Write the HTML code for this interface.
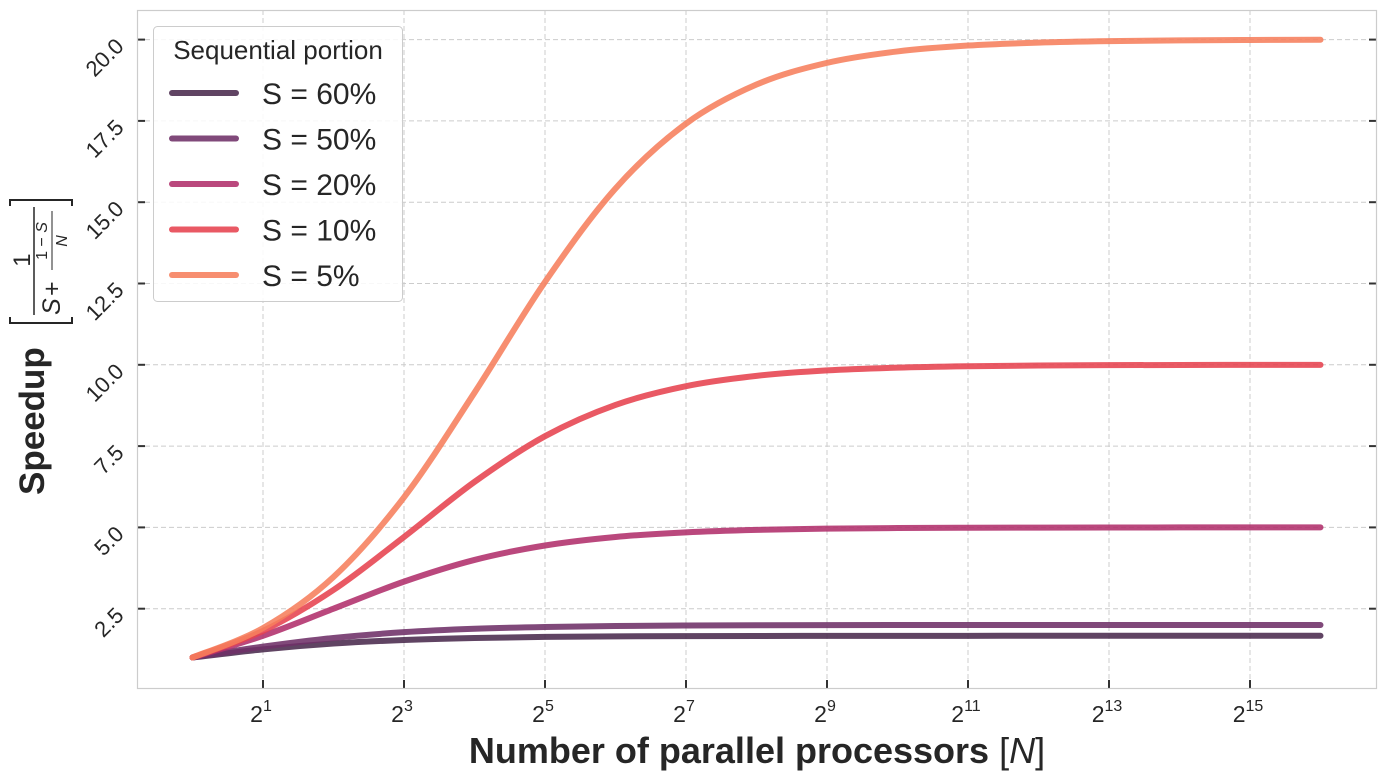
<!DOCTYPE html>
<html><head><meta charset="utf-8"><style>
body{margin:0;background:#fff}
svg{display:block;font-family:"Liberation Sans","DejaVu Sans",sans-serif}
</style></head><body>
<svg id="chart" width="1387" height="780" viewBox="0 0 1387 780">
<rect x="0" y="0" width="1387" height="780" fill="#fff"/>
<g id="grid"></g>
<g id="ticks"></g>
<g id="series"></g>
<rect x="137.5" y="10.5" width="1239" height="678" fill="none" stroke="#ccc" stroke-width="1.2"/>
<text x="757" y="763" text-anchor="middle" font-size="36" font-weight="bold" fill="#262626">Number of parallel processors <tspan font-weight="normal">[</tspan><tspan font-weight="normal" font-style="italic">N</tspan><tspan font-weight="normal">]</tspan></text>
<g transform="translate(44,495) rotate(-90)">
<text x="0" y="0" font-size="35" font-weight="bold" fill="#262626">Speedup</text>
<path d="M178,-34 L172,-34 L172,28 L178,28" fill="none" stroke="#262626" stroke-width="2"/>
<path d="M289,-34 L295,-34 L295,28 L289,28" fill="none" stroke="#262626" stroke-width="2"/>
<text x="235" y="-14" text-anchor="middle" font-size="24" fill="#262626">1</text>
<line x1="180" y1="-10" x2="288" y2="-10" stroke="#262626" stroke-width="1.5"/>
<text x="180" y="16" font-size="25" font-style="italic" fill="#262626">S</text>
<text x="199" y="16" font-size="25" fill="#262626">+</text>
<text x="254" y="3" text-anchor="middle" font-size="16" fill="#262626">1 − <tspan font-style="italic">S</tspan></text>
<line x1="225" y1="8" x2="284" y2="8" stroke="#262626" stroke-width="1"/>
<text x="254" y="23" text-anchor="middle" font-size="16" font-style="italic" fill="#262626">N</text>
</g>
<g>
<rect x="153.5" y="26.5" width="249" height="275" rx="4" fill="#fff" fill-opacity="0.85" stroke="#ccc"/>
<text x="278" y="59" text-anchor="middle" font-size="26" fill="#262626">Sequential portion</text>
<g id="legend-items"></g>
</g>
</svg>
<script>
const exponents=[0,1,2,3,4,5,6,7,8,9,10,11,12,13,14,15,16];
const seriesLabels=["S = 60%","S = 50%","S = 20%","S = 10%","S = 5%"];
const s60=[1,1.25,1.429,1.538,1.6,1.633,1.650,1.658,1.662,1.664,1.666,1.666,1.667,1.667,1.667,1.667,1.667];
const s50=[1,1.333,1.6,1.778,1.882,1.939,1.969,1.984,1.992,1.996,1.998,1.999,2,2,2,2,2];
const s20=[1,1.667,2.5,3.333,4.0,4.444,4.706,4.848,4.923,4.961,4.981,4.990,4.995,4.998,4.999,5,5];
const s10=[1,1.818,3.077,4.706,6.4,7.805,8.767,9.343,9.660,9.827,9.913,9.956,9.978,9.989,9.995,9.997,9.999];
const s5=[1,1.905,3.478,5.926,9.143,12.549,15.422,17.415,18.618,19.284,19.636,19.817,19.908,19.954,19.977,19.988,19.994];
const yTicks=[2.5,5.0,7.5,10.0,12.5,15.0,17.5,20.0];
const xTickExps=[1,3,5,7,9,11,13,15];
const colors=["#4a2a4d","#6e3068","#b02f6b","#e6424f","#f67e5c"];
const NS="http://www.w3.org/2000/svg";
const X=k=>192.5+k*70.5;
const Y=v=>690-v*32.52;
function el(t,a,p){const e=document.createElementNS(NS,t);for(const k in a)e.setAttribute(k,a[k]);p.appendChild(e);return e;}
const grid=document.getElementById('grid'),ticks=document.getElementById('ticks');
yTicks.forEach(v=>{
 const g=el('line',{x1:137,x2:1377,y1:Y(v),y2:Y(v),stroke:'#ccc','stroke-dasharray':'5,3','stroke-width':1},grid);
 
 
 el('line',{x1:137,x2:145,y1:Y(v),y2:Y(v),stroke:'#333','stroke-width':2},ticks);
 el('line',{x1:1369,x2:1377,y1:Y(v),y2:Y(v),stroke:'#333','stroke-width':2},ticks);
 const t=el('text',{x:0,y:0,'text-anchor':'end','font-size':22,fill:'#262626',transform:`translate(125,${Y(v)+8}) rotate(-45)`},ticks);
 t.textContent=v.toFixed(1);
 
 
});
xTickExps.forEach(k=>{
 const g=el('line',{x1:X(k),x2:X(k),y1:10,y2:688,stroke:'#ccc','stroke-dasharray':'5,3','stroke-width':1},grid);
 
 
 el('line',{x1:X(k),x2:X(k),y1:680,y2:688,stroke:'#333','stroke-width':2},ticks);
 const t=el('text',{x:X(k)-2,y:722,'text-anchor':'middle','font-size':23,fill:'#262626'},ticks);
 
 
 t.innerHTML='2<tspan dy="-11" font-size="16">'+k+'</tspan>';
});
function path(vals){
 const p=exponents.map((k,i)=>[X(k),Y(vals[i])]);
 let d='M'+p[0][0]+','+p[0][1];
 for(let i=0;i<p.length-1;i++){
  const p0=p[Math.max(0,i-1)],p1=p[i],p2=p[i+1],p3=p[Math.min(p.length-1,i+2)];
  const c1=[p1[0]+(p2[0]-p0[0])/6,p1[1]+(p2[1]-p0[1])/6];
  const c2=[p2[0]-(p3[0]-p1[0])/6,p2[1]-(p3[1]-p1[1])/6];
  d+=`C${c1[0]},${c1[1]} ${c2[0]},${c2[1]} ${p2[0]},${p2[1]}`;
 }
 return d;
}
const series=document.getElementById('series'),leg=document.getElementById('legend-items');
[s60,s50,s20,s10,s5].forEach((vals,i)=>{
 const l=el('path',{d:path(vals),fill:'none',stroke:colors[i],'stroke-width':6,'stroke-opacity':0.88,'stroke-linecap':'round'},series);
 
 
 const y=93+i*45.5;
 const e=el('line',{x1:172,x2:236,y1:y,y2:y,stroke:colors[i],'stroke-width':6,'stroke-opacity':0.88,'stroke-linecap':'round'},leg);
 
 
 const t=el('text',{x:262,y:y+11,'font-size':30,fill:'#262626'},leg);
 t.textContent=seriesLabels[i];
 
 
});
</script>
</body></html>
